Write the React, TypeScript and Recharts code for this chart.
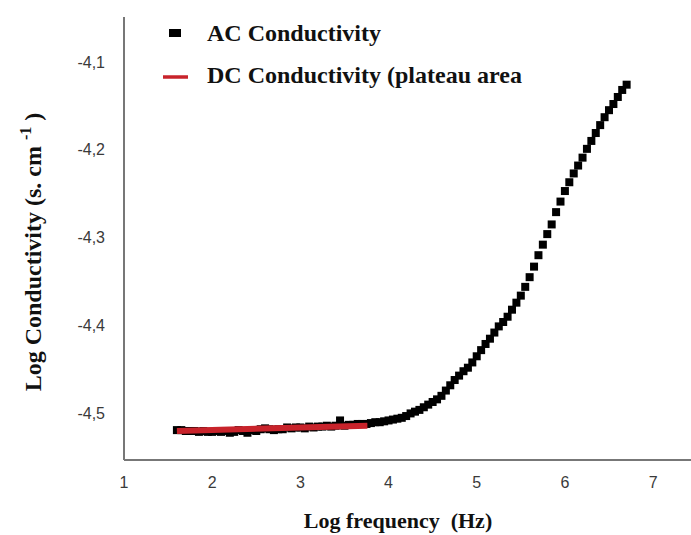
import { Scatter, ScatterChart, XAxis, YAxis, Label } from 'recharts';

// log f (Hz) sampled by the analyser
const logFreq = [
  1.6, 1.65, 1.7, 1.75, 1.8, 1.85, 1.9, 1.95, 2.0, 2.05, 2.1, 2.15, 2.2, 2.25, 2.3, 2.35, 2.4, 2.45, 2.5, 2.55,
  2.6, 2.65, 2.7, 2.75, 2.8, 2.85, 2.9, 2.95, 3.0, 3.05, 3.1, 3.15, 3.2, 3.25, 3.3, 3.35, 3.4, 3.45, 3.5, 3.55,
  3.6, 3.65, 3.7, 3.75, 3.8, 3.85, 3.9, 3.95, 4.0, 4.05, 4.1, 4.15, 4.2, 4.25, 4.3, 4.35, 4.4, 4.45, 4.5, 4.55,
  4.6, 4.65, 4.7, 4.75, 4.8, 4.85, 4.9, 4.95, 5.0, 5.05, 5.1, 5.15, 5.2, 5.25, 5.3, 5.35, 5.4, 5.45, 5.5, 5.55,
  5.6, 5.65, 5.7, 5.75, 5.8, 5.85, 5.9, 5.95, 6.0, 6.05, 6.1, 6.15, 6.2, 6.25, 6.3, 6.35, 6.4, 6.45, 6.5, 6.55,
  6.6, 6.65, 6.7,
];

const acConductivity = [
  -4.519, -4.519, -4.52, -4.52, -4.52, -4.521, -4.52, -4.521, -4.521, -4.52, -4.521, -4.52, -4.522, -4.521, -4.519,
  -4.52, -4.522, -4.519, -4.52, -4.518, -4.517, -4.518, -4.519, -4.518, -4.518, -4.516, -4.517, -4.516, -4.516,
  -4.517, -4.515, -4.516, -4.515, -4.515, -4.514, -4.515, -4.514, -4.508, -4.514, -4.513, -4.513, -4.512, -4.512,
  -4.512, -4.511, -4.51, -4.51, -4.509, -4.508, -4.507, -4.506, -4.505, -4.503, -4.5, -4.498, -4.496, -4.493,
  -4.49, -4.487, -4.484, -4.48, -4.474, -4.468, -4.462, -4.457, -4.452, -4.448, -4.442, -4.435, -4.428, -4.421,
  -4.415, -4.408, -4.401, -4.396, -4.39, -4.382, -4.374, -4.366, -4.356, -4.345, -4.333, -4.32, -4.308, -4.296,
  -4.285, -4.271, -4.259, -4.247, -4.237, -4.227, -4.218, -4.209, -4.199, -4.19, -4.181, -4.172, -4.163, -4.155,
  -4.148, -4.14, -4.132, -4.126,
];

// linear fit over the plateau
const dcFreq = [1.6, 3.76];
const dcConductivity = [-4.52, -4.514];

const xTicks = [1, 2, 3, 4, 5, 6, 7];
const yTicks = [-4.5, -4.4, -4.3, -4.2, -4.1];

const acData = logFreq.map((x, i) => ({ x, y: acConductivity[i] }));
const dcData = dcFreq.map((x, i) => ({ x, y: dcConductivity[i] }));

const serif = '"Liberation Serif", "Times New Roman", serif';
const sans = '"Liberation Sans", Arial, sans-serif';
const red = '#c8232b';

const Square = (props: any) => (
  <rect x={props.cx - 4} y={props.cy - 4} width={8} height={8} fill="#000" />
);

// legend sits over the plot, so it is drawn outside recharts' layout
const LegendBox = () => (
  <svg width={600} height={95} style={{ position: 'absolute', left: 0, top: 0, pointerEvents: 'none' }}>
    <rect x={169} y={29} width={12} height={8} fill="#000" />
    <text x={207} y={41} fontFamily={serif} fontWeight="bold" fontSize={24} fill="#111">
      AC Conductivity
    </text>
    <line x1={163} x2={188} y1={77} y2={77} stroke={red} strokeWidth={3.5} />
    <text x={207} y={83} fontFamily={serif} fontWeight="bold" fontSize={24} fill="#111">
      DC Conductivity (plateau area
    </text>
  </svg>
);

const YTitle = () => (
  <text
    transform="translate(41, 252) rotate(-90)"
    textAnchor="middle"
    fontFamily={serif}
    fontWeight="bold"
    fontSize={24}
    fill="#111"
  >
    Log Conductivity (s. cm{' '}
    <tspan dy={-10} fontSize={16}>-1</tspan>
    <tspan dy={10}> )</tspan>
  </text>
);

const XTitle = () => (
  <text x={398} y={528} textAnchor="middle" fontFamily={serif} fontWeight="bold" fontSize={22} fill="#111">
    Log frequency{'\u00a0\u00a0'}(Hz)
  </text>
);

export default function App() {
  return (
    <div style={{ position: 'absolute', left: 0, top: 0, width: 691, height: 535, background: '#fff' }}>
      <ScatterChart width={691} height={535} margin={{ top: 17, right: 0, left: 0, bottom: 0 }}>
        <XAxis
          type="number"
          dataKey="x"
          domain={[1, 7.43]}
          ticks={xTicks}
          allowDataOverflow
          height={75}
          tickSize={0}
          tickMargin={17}
          axisLine={{ stroke: '#777', strokeWidth: 2 }}
          tick={{ fontFamily: sans, fontSize: 16, fill: '#3a3a3a' }}
        >
          <Label content={XTitle} />
        </XAxis>
        <YAxis
          type="number"
          dataKey="y"
          domain={[-4.553, -4.049]}
          ticks={yTicks}
          allowDataOverflow
          width={124}
          tickSize={0}
          tickMargin={19}
          axisLine={{ stroke: '#777', strokeWidth: 2 }}
          tick={{ fontFamily: sans, fontSize: 16, fill: '#3a3a3a' }}
          tickFormatter={(v: number) => v.toFixed(1).replace('.', ',')}
        >
          <Label content={YTitle} />
        </YAxis>
        <Scatter name="AC Conductivity" data={acData} shape={Square} isAnimationActive={false} />
        <Scatter
          name="DC Conductivity (plateau area"
          data={dcData}
          line={{ stroke: red, strokeWidth: 6 }}
          shape={() => <g />}
          isAnimationActive={false}
        />
      </ScatterChart>
      <LegendBox />
    </div>
  );
}
